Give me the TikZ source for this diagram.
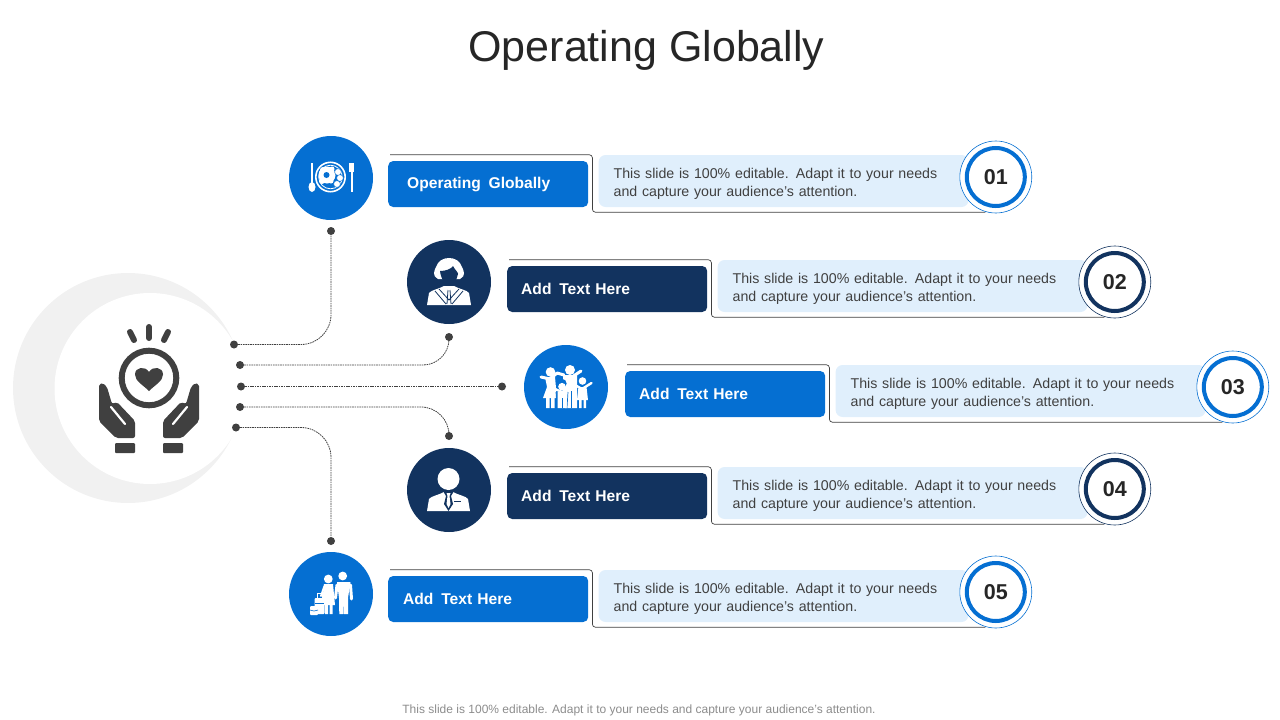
\documentclass[tikz,border=0pt]{standalone}
\usepackage{fontspec}
\setmainfont{Liberation Sans}
\usetikzlibrary{calc}
\usetikzlibrary{positioning}
\definecolor{opblue}{HTML}{056FD2}
\definecolor{opnavy}{HTML}{12335F}
\definecolor{oppanel}{HTML}{E0EFFC}
\definecolor{opdark}{HTML}{404040}
\definecolor{opmoon}{HTML}{F1F1F1}
\tikzset{
  rowdisc/.style={circle,inner sep=0pt,minimum size=84pt},
  labelbox/.style={rounded corners=5pt,minimum width=200pt,minimum height=46pt,anchor=west,
    text=white,align=left,font=\fontsize{15.6}{18}\selectfont\bfseries},
  panelbox/.style={rounded corners=7pt,fill=oppanel,minimum width=370pt,minimum height=52pt,
    inner xsep=15pt,text width=340pt,align=left,text=opdark,font=\fontsize{14.2}{18}\selectfont},
  ringout/.style={circle,draw,line width=0.6pt,fill=white,inner sep=0pt,minimum size=72pt},
  ringin/.style={circle,draw,line width=4pt,fill=white,inner sep=0pt,minimum size=58pt,
    text=black!85,font=\fontsize{21.5}{24}\selectfont\bfseries},
  framelink/.style={draw=opdark,line width=0.7pt,rounded corners=3pt},
  dotend/.style={circle,fill=opdark,inner sep=0pt,minimum size=8pt},
  dotlink/.style={draw=opdark,line width=0.8pt,dash pattern=on 1.6pt off 0.8pt},
  handshape/.pic={
    \fill[opdark,rounded corners=2pt] (-50,-6) -- (-50,31) -- (-33,48) -- (-14,48)
      -- (-14,31) -- (-32,12) -- (-37,14) -- (-42,-3) -- (-46,-7) -- cycle;
    \draw[white,line width=2.2pt,line cap=round] (-38,17) -- (-24,34);
    \fill[opdark,rounded corners=1pt] (-34,53) rectangle (-14,63);
  },
  plateicon/.pic={
    \draw[white,line width=1.6pt] (-0.5,-1) circle (14.7);
    \draw[white,line width=0.8pt] (-0.5,-1) circle (11.8);
    \fill[white] (-4,-3) circle (8.5);
    \fill[white] (-8,-8) circle (3) (1,-9) circle (2.5) (-9,3) circle (3) (0,3) circle (2.5);
    \filldraw[white,draw=opblue,line width=0.5pt] (7,-6) circle (3.4) (9,0) circle (3.4) (6,6) circle (3.4);
    \fill[opblue] (-4.5,-3) circle (3);
    \draw[white,line width=2.2pt] (-19,-15) -- (-19,8);
    \fill[white] (-19,9) ellipse (3.5 and 5);
    \draw[white,line width=2pt] (20.5,-10) -- (20.5,14);
    \fill[white] (17.5,-15) rectangle (22.5,-6);
  },
  womanicon/.pic={
    \fill[white] (-11,-3) .. controls (-17,-6) and (-15,-11) .. (-13,-15)
      .. controls (-11,-21) and (-6,-24) .. (0,-24)
      .. controls (6,-24) and (11,-21) .. (13,-15)
      .. controls (15,-11) and (17,-6) .. (11,-3) -- cycle;
    \fill[opnavy] (-9,-11) .. controls (-3,-11) and (2,-13) .. (4,-16)
      .. controls (6,-12) and (9,-10) .. (9,-8) .. controls (8,-1) and (3,3) .. (0,4)
      .. controls (-3,3) and (-8,-2) .. (-9,-11) -- cycle;
    \fill[white] (-22,23) -- (-20,11) .. controls (-18,8) and (-10,7) .. (-5,4)
      -- (5,4) .. controls (10,7) and (18,8) .. (20,11) -- (22,23) -- cycle;
    \draw[opnavy,line width=0.8pt] (-14,9) -- (-3,22) (14,9) -- (3,22) (-10,7) -- (0,18) -- (10,7)
      (-1,8) -- (-2,22) (1,8) -- (2,22);
  },
  manicon/.pic={
    \fill[white] (-0.5,-11) circle (11);
    \fill[white] (-22,21) -- (-20,9) .. controls (-18,6) and (-10,5) .. (-5,2)
      -- (4,2) .. controls (9,5) and (17,6) .. (19,9) -- (21,21) -- cycle;
    \fill[opnavy] (-6,1) -- (5,1) -- (2,6) -- (4,14) -- (-0.5,21) -- (-5,14) -- (-3,6) -- cycle;
    \fill[white] (-2.5,3) -- (1.5,3) -- (0.5,6) -- (1.5,14) -- (-0.5,18) -- (-2.5,14) -- (-1.5,6) -- cycle;
    \draw[opnavy,line width=1pt] (5,11) -- (12,11);
  },
  familyicon/.pic={
    \draw[white,line width=3pt,line cap=round] (-25,-10) -- (-16,-8) -- (-9,-14)
      (-2,-12) -- (-9,-14) (6,-10) -- (15,-16);
    \fill[white] (-15.5,-15) circle (4.8) (4,-17) circle (5);
    \fill[white] (-21,-10) -- (-11,-10) -- (-10,1) -- (-10,11) -- (-23,11) -- (-19,0) -- cycle;
    \fill[white] (-20,10) rectangle (-16.5,21) (-15,10) rectangle (-11.5,21);
    \fill[white] (-3,-12) -- (11,-12) -- (11,21) -- (-1,21) -- cycle;
    \draw[opblue,line width=0.7pt] (5,4) -- (5,21);
    \draw[white,line width=2.4pt,line cap=round] (-11,2) -- (-4,5) -- (3,2);
    \draw[opblue,line width=0.7pt] (-10,5) -- (-9,21) (2,5) -- (1,21);
    \fill[opblue] (-4,-3.5) circle (4.6);
    \fill[white] (-4,-0.3) circle (3.8) (-8.5,5) rectangle (0.5,21);
    \draw[opblue,line width=0.7pt] (-4,11) -- (-4,21);
    \draw[white,line width=2.4pt,line cap=round] (9,-2) -- (16,2) -- (25.5,-4);
    \fill[white] (16.5,-6) circle (3.8);
    \fill[white] (12.5,0) -- (20.5,0) -- (22,13) -- (11,13) -- cycle;
    \fill[white] (13,12) rectangle (15.5,21) (17.5,12) rectangle (20,21);
  },
  coupleicon/.pic={
    \fill[white] (11.7,-18) circle (4.4);
    \draw[white,line width=3pt,line cap=round] (6,-9) -- (4.5,4) (19.5,-9) -- (20.5,5);
    \fill[white] (6,-12) -- (19.5,-12) -- (17,4) -- (17,20) -- (13,20) -- (12.7,5) -- (12.3,20)
      -- (8.3,20) -- (8,4) -- cycle;
    \fill[white] (-2.7,-15) circle (4.4);
    \draw[white,line width=2pt,line cap=round] (-6.5,-8) -- (-10,2);
    \fill[white] (-7,-10) -- (2,-10) -- (4,11) -- (-9,11) -- cycle;
    \fill[white] (-6,10) rectangle (-3,20) (-1.5,10) rectangle (1.5,20);
    \draw[white,line width=1pt] (-14,4) -- (-14,-1) -- (-9,-1) -- (-9,4);
    \fill[white,rounded corners=1pt] (-16.5,4) rectangle (-6.5,20);
    \draw[opblue,line width=0.7pt] (-16,9) -- (-7,9);
    \fill[white,rounded corners=1pt] (-21,12) rectangle (-13,21);
    \draw[opblue,line width=0.6pt] (-21,16) -- (-17,17) -- (-13,16);
  }
}
\begin{document}
\begin{tikzpicture}[x=1pt,y=-1pt]
  \useasboundingbox (0,0) rectangle (1280,720);
  \node[font=\fontsize{43}{48}\selectfont,text=black!85] (title) at (646.5,50) {Operating Globally};
  \node[font=\fontsize{12}{14}\selectfont,text=black!45] (foot) at (639,710)
    {This slide is 100\% editable. Adapt it to your needs and capture your audience's attention.};
  % centre
  \fill[opmoon] (128,388) circle (115);
  \fill[white] (150,388.5) circle (95.5);
  \foreach \a/\b/\c/\d in {130/332/134/340,149/327/149/338,168/332/164/340} {
    \draw[opdark,line width=6pt,line cap=round] (\a,\b) -- (\c,\d);
  }
  \draw[opdark,line width=6pt] (149,378) circle (27.3);
  \fill[opdark] (149,391) .. controls (143,385) and (135,381) .. (135,374.5)
    .. controls (135,367) and (145,365.5) .. (149,372)
    .. controls (153,365.5) and (163,367) .. (163,374.5)
    .. controls (163,381) and (155,385) .. (149,391) -- cycle;
  \pic at (149,390) {handshape};
  \pic[xscale=-1] at (149,390) {handshape};
  % rows
  \foreach \n/\lx/\ly/\dx/\dy/\col/\pad/\txt/\icon in {
    1/388/161/331/178/opblue/19/Operating\ \,Globally/plateicon,
    2/507/266/449/282/opnavy/14/Add\ \,Text Here/womanicon,
    3/625/371/566/387/opblue/14/Add\ \,Text Here/familyicon,
    4/507/473/449/490/opnavy/14/Add\ \,Text Here/manicon,
    5/388/576/331/594/opblue/15/Add\ \,Text Here/coupleicon} {
    \node[rowdisc,fill=\col] (disc\n) at (\dx,\dy) {};
    \pic at (disc\n.center) {\icon};
    \node[labelbox,fill=\col,inner xsep=\pad pt,text width=200pt-2*\pad pt] (lab\n) at (\lx,\ly+23) {\txt};
    \draw[framelink] ($(lab\n.north west)+(2,-6)$) -| ($(lab\n.south east)+(4,5)$) -- ($(lab\n.south east)+(397,5)$);
    \node[panelbox,right=10pt of lab\n,yshift=3pt] (panel\n) {\rule{0pt}{16pt}This slide is 100\% editable.\ \,Adapt it to your needs\\and capture your audience's attention.};
    \node[ringout,draw=\col] (out\n) at ($(panel\n.east)+(27,-4)$) {};
    \node[ringin,draw=\col] (num\n) at (out\n) {0\n};
  }
  % links
  \foreach \n/\a/\b/\c/\d in {1/234/344.5/331/231,2/240/365/449/337,3/241/386.5/502/386.5,4/240/407/449/436,5/236/427.5/331/541} {
    \node[dotend] (start\n) at (\a,\b) {};
    \node[dotend] (stop\n) at (\c,\d) {};
  }
  \draw[dotlink,rounded corners=30pt] (start1) -| (stop1);
  \draw[dotlink,rounded corners=26pt] (start2) -| (stop2);
  \draw[dotlink] (start3) -- (stop3);
  \draw[dotlink,rounded corners=28pt] (start4) -| (stop4);
  \draw[dotlink,rounded corners=30pt] (start5) -| (stop5);
\end{tikzpicture}
\end{document}
